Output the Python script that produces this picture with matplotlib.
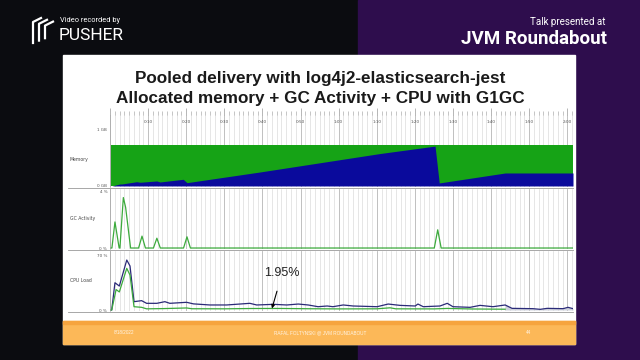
import matplotlib.pyplot as plt
from matplotlib.patches import Rectangle
from matplotlib.lines import Line2D
from matplotlib.ticker import MultipleLocator
import matplotlib.transforms as mtrans

W, H = 640, 360

# minutes since start
mem_t = [0.3, 0.5, 2.6, 3.1, 7.0, 7.9, 12.3, 13.1, 19.2, 20.2, 39.4, 70.9, 85.3, 86.4, 103.7, 121.5]
mem_used = [0.0, 0.0, 0.035, 0.035, 0.075, 0.065, 0.088, 0.07, 0.117, 0.058, 0.246, 0.57, 0.70, 0.053, 0.228, 0.228]
mem_commit_t = [0.3, 121.5]
mem_commit = [0.72, 0.72]

gc_t = [0, 0.5, 1.3, 2.4, 2.6, 3.5, 4.1, 5.4, 7.5, 8.4, 9.3, 11.4, 12.3, 13.2,
        19.3, 20.2, 21.1, 85.1, 86.0, 86.9, 121.5]
gc_pct = [0, 0, 1.86, 0, 0, 3.6, 2.9, 0, 0, 0.85, 0, 0, 0.7, 0,
          0, 0.8, 0, 0, 1.3, 0, 0]

cpu_t = [0, 0.45, 1.3, 2.45, 4.4, 5.25, 6.3, 8.3, 9.6, 12.3, 14.4, 15.7, 20.1, 21.9,
         26.2, 30.6, 36.7, 38.5, 42.9, 46.4, 49.4, 52.0, 54.6, 57.0, 58.5, 61.2, 63.8,
         70.1, 73.0, 76.1, 80.1, 80.8, 82.2, 86.6, 88.5, 90.0, 94.5, 97.1, 100.5, 103.7,
         105.5, 111.0, 112.9, 114.7, 118.9, 120.2, 121.5]
cpu_total = [0, 0, 34.7, 30.5, 63.6, 56, 10.6, 11.9, 8.5, 8.5, 10.6, 8.5, 9.8, 7.8,
             6.4, 6.4, 8.5, 6.4, 7.2, 6.4, 7.6, 6.4, 4.2, 5.1, 4.2, 6.4, 5.1,
             4.2, 7.6, 5.9, 5.1, 7.6, 4.2, 5.1, 8.5, 4.2, 3.4, 5.9, 4.2, 6.4,
             2.1, 1.7, 0.85, 2.1, 1.7, 3.4, 1.7]

cpu_proc_t = [0, 0.45, 1.6, 2.45, 4.4, 5.25, 6.3, 8.3, 9.6, 14, 20.1, 21.5, 30, 37,
              42.5, 45, 52, 60, 70, 73.5, 75, 85, 88.5, 95, 103.7]
cpu_proc = [0, 0, 26, 23, 53, 44.5, 4.2, 3.4, 1.5, 1.8, 2.6, 1.6, 1.5, 1.9,
            1.95, 1.95, 1.6, 1.4, 1.5, 2.8, 1.5, 1.4, 2.0, 1.3, 1.0]

time_ticks = list(range(10, 130, 10))
time_labels = ["%d:%02d" % (t // 60, t % 60) for t in time_ticks]


def fx(x):
    return x / W


def fy(y):
    return 1 - y / H


fig = plt.figure(figsize=(6.4, 3.6), dpi=100)
fig.patch.set_facecolor('#0b0c10')
fig.add_artist(Rectangle((fx(358), 0), 1 - fx(358), 1, transform=fig.transFigure,
                         color='#2e0d4d', zorder=0))

# slide
fig.add_artist(Rectangle((fx(63), fy(344)), fx(575 - 63), (344 - 55) / H,
                         transform=fig.transFigure, color='white', zorder=1))
fig.add_artist(Rectangle((fx(63), fy(344)), fx(575 - 63), (344 - 321) / H,
                         transform=fig.transFigure, color='#fcb858', zorder=2))
fig.add_artist(Rectangle((fx(63), fy(324)), fx(575 - 63), 3 / H,
                         transform=fig.transFigure, color='#f6a43e', zorder=2))

# header
fig.text(fx(60), fy(20), "Video recorded by", color='white', fontsize=5.3,
         family='Roboto', va='center')
fig.text(fx(59), fy(36), "PUSHER", color='white', fontsize=12.5, family='Roboto',
         va='center')
for dx in (0, 6, 12):
    fig.add_artist(Line2D([fx(33 + dx), fx(33 + dx), fx(41 + dx)],
                          [fy(43 - dx * 0.4), fy(22 + dx * 0.3), fy(18 + dx * 0.3)],
                          transform=fig.transFigure, color='white', lw=1.6, zorder=3))
fig.text(fx(606), fy(22), "Talk presented at", color='white', fontsize=7,
         family='Roboto', ha='right', va='center')
fig.text(fx(607), fy(39.5), "JVM Roundabout", color='white', fontsize=13.5,
         family='Roboto', weight='bold', ha='right', va='center')

# title
fig.text(fx(320), fy(78), "Pooled delivery with log4j2-elasticsearch-jest",
         fontsize=12.3, family='Liberation Sans', weight='bold', color='#1a1a1a',
         ha='center', va='center', zorder=3)
fig.text(fx(320), fy(98), "Allocated memory + GC Activity + CPU with G1GC",
         fontsize=12.3, family='Liberation Sans', weight='bold', color='#1a1a1a',
         ha='center', va='center', zorder=3)

# footer
for x, s in [(124, "8/18/2022"), (320, "RAFAL FOLTYNSKI @ JVM ROUNDABOUT"), (528, "44")]:
    fig.text(fx(x), fy(333), s, color='white', alpha=0.85, fontsize=3.3,
             family='Liberation Sans', ha='center', va='center', zorder=3)

# panels: (top px, bottom px, label, ylim, yticks, ytick labels)
panels = [
    (115, 187, "Memory", (-0.018, 1.246), [0, 1], ["0 GB", "1 GB"]),
    (189, 249, "GC Activity", (-0.07, 4.21), [0, 4], ["0 %", "4 %"]),
    (251, 311, "CPU Load", (-1.27, 75.1), [0, 70], ["0 %", "70 %"]),
]
axes = []
for top, bot, label, ylim, yt, ytl in panels:
    ax = fig.add_axes([fx(110), fy(bot), fx(573 - 110), (bot - top) / H], zorder=4)
    ax.set_facecolor('white')
    ax.set_xlim(0, 121.5)
    ax.set_ylim(*ylim)
    ax.xaxis.set_major_locator(MultipleLocator(10))
    ax.xaxis.set_minor_locator(MultipleLocator(1.25))
    ax.grid(which='minor', axis='x', color='#dcdcdc', lw=0.5)
    ax.grid(which='major', axis='x', color='#b5b5b5', lw=0.6)
    ax.set_axisbelow(True)
    ax.tick_params(axis='x', which='both', bottom=False, top=False,
                   labelbottom=False, labeltop=False)
    ax.set_yticks(yt)
    ax.set_yticklabels(ytl)
    ax.tick_params(axis='y', length=0, labelsize=3, labelcolor='#555555', pad=2)
    for s in ('top', 'right', 'bottom'):
        ax.spines[s].set_visible(False)
    ax.spines['left'].set_color('#aaaaaa')
    ax.spines['left'].set_linewidth(0.5)
    fig.text(fx(70), fy((top + bot) / 2 + (8 if label == "Memory" else 0)), label,
             fontsize=3.3, color='#444444', va='center', zorder=5)
    fig.add_artist(Line2D([fx(68), fx(573)], [fy(bot + 0.5), fy(bot + 0.5)],
                          transform=fig.transFigure, color='#999999', lw=0.6, zorder=5))
    axes.append(ax)

ax_mem, ax_gc, ax_cpu = axes

# top time ruler
ax_mem.tick_params(axis='x', which='both', top=True, direction='out', color='#999999')
ax_mem.tick_params(axis='x', which='major', length=5, width=0.5)
ax_mem.tick_params(axis='x', which='minor', length=3, width=0.4)
trans = mtrans.blended_transform_factory(ax_mem.transData, ax_mem.transAxes)
for t, s in zip(time_ticks, time_labels):
    ax_mem.text(t, 0.9, s, transform=trans, fontsize=3, color='#555555',
                ha='center', va='center')

ax_mem.fill_between(mem_commit_t, 0, mem_commit, color='#16a316', lw=0)
ax_mem.fill_between(mem_t, 0, mem_used, color='#0a0a9c', lw=0)

ax_gc.plot(gc_t, gc_pct, color='#3caa3c', lw=0.9)

ax_cpu.fill_between(cpu_t, 0, cpu_total, where=[t >= 103.7 for t in cpu_t],
                    color='#cfd2dc', lw=0)
ax_cpu.plot(cpu_t, cpu_total, color='#2a2a78', lw=0.9)
ax_cpu.plot(cpu_proc_t, cpu_proc, color='#3caa3c', lw=0.9)
ax_cpu.annotate("1.95%", xy=(42.5, 1.95), xytext=(45.2, 47), fontsize=9,
                family='Liberation Sans', color='#222222', ha='center', va='center',
                arrowprops=dict(arrowstyle='-|>', color='black', lw=0.8,
                                mutation_scale=5, shrinkA=7, shrinkB=0))

fig.savefig('out.png', dpi=100, facecolor=fig.get_facecolor())
